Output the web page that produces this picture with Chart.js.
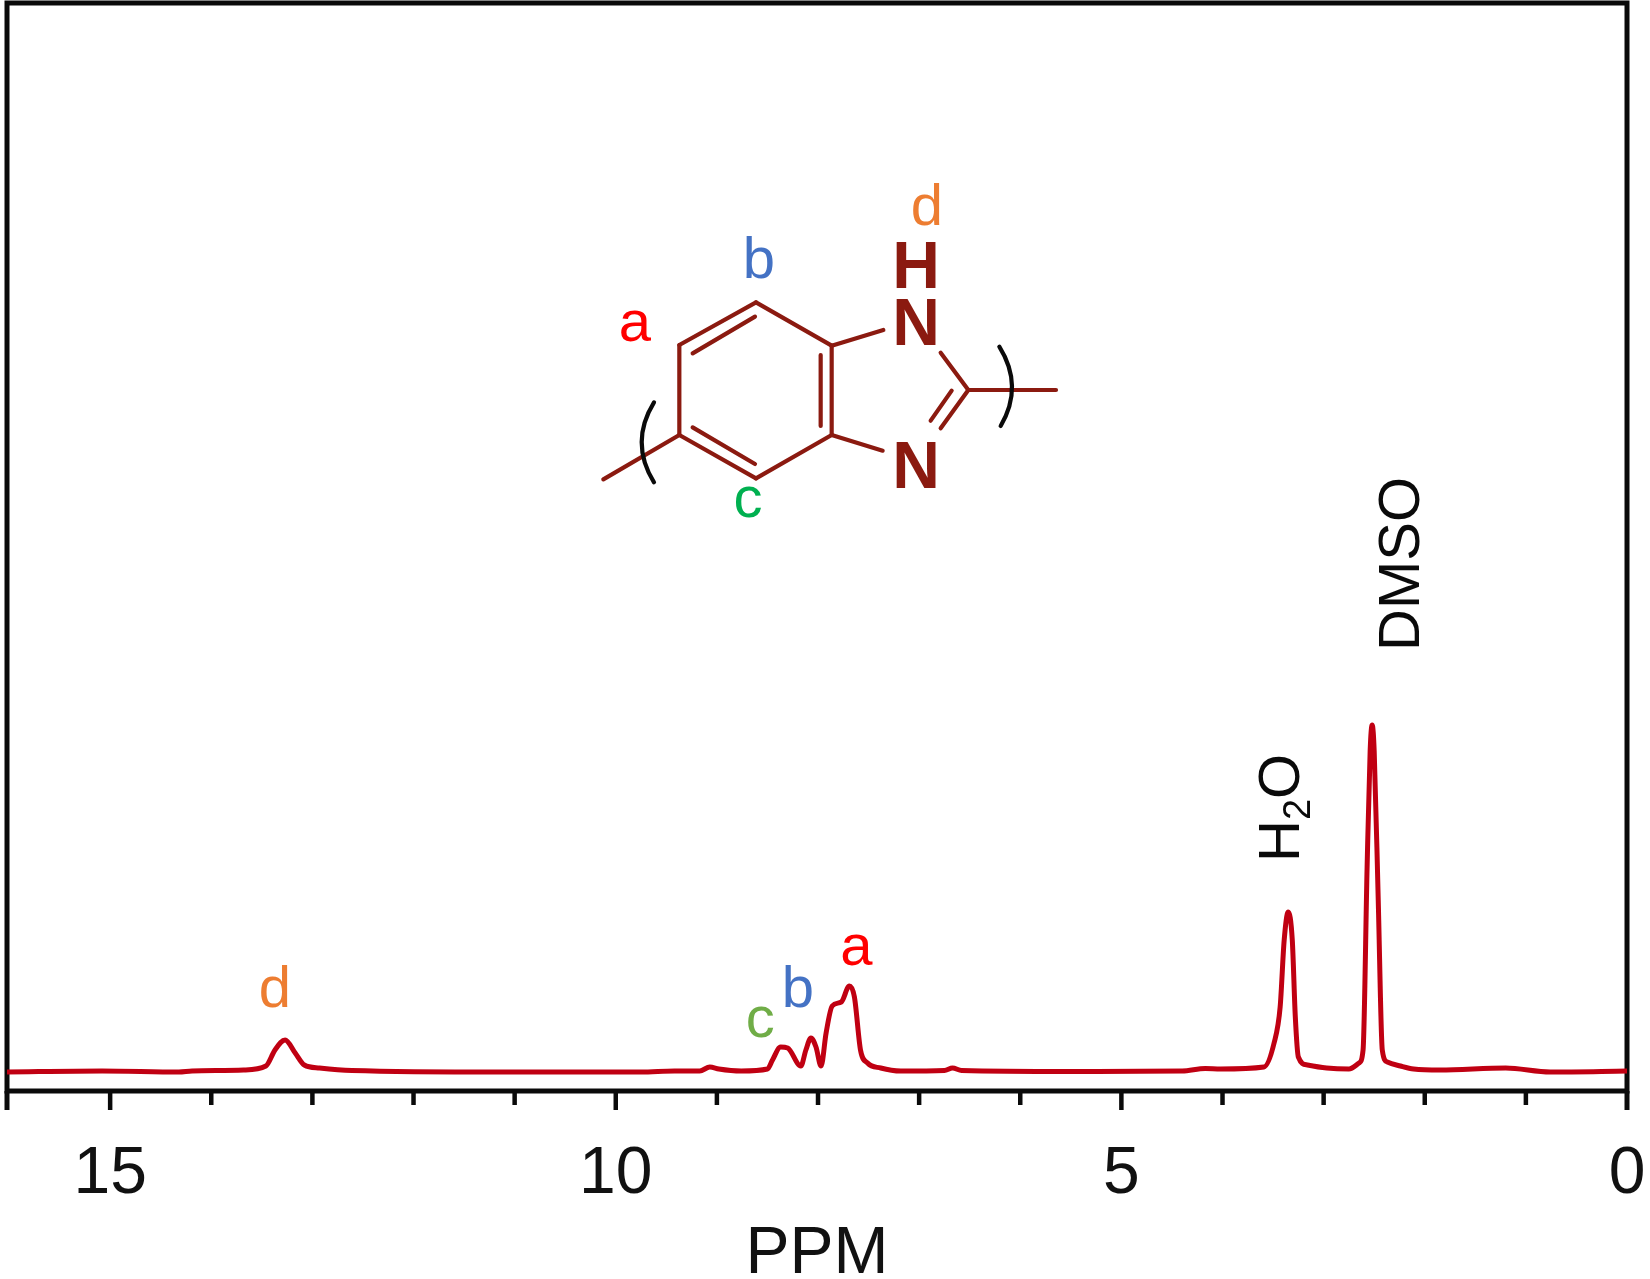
<!DOCTYPE html>
<html>
<head>
<meta charset="utf-8">
<title>PPM spectrum</title>
<style>
  html, body { margin: 0; padding: 0; background: #fff; }
  canvas { display: block; }
</style>
<script src="https://cdn.jsdelivr.net/npm/chart.js@4/dist/chart.umd.min.js"></script>
</head>
<body>
<canvas id="chart" width="1650" height="1279"></canvas>
<script>
// spectrum, left to right
const ppm = [16.02, 15.08, 14.32, 14.19, 13.68, 13.46, 13.37, 13.27, 13.17, 13.08, 12.93, 12.61, 11.13,
  9.75, 9.42, 9.17, 9.07, 8.98, 8.76, 8.5, 8.45, 8.37, 8.3, 8.17, 8.12, 8.07, 8.02, 7.97, 7.92, 7.86, 7.77,
  7.69, 7.64, 7.58, 7.51, 7.38, 7.18, 6.75, 6.67, 6.58, 5.5, 4.4, 4.17, 4.02, 3.59, 3.49, 3.43, 3.39, 3.35,
  3.31, 3.28, 3.25, 3.16, 2.97, 2.75, 2.65, 2.61, 2.57, 2.54, 2.52, 2.5, 2.46, 2.42, 2.37, 2.24, 2.11, 1.85,
  1.2, 0.76, 0];
const intensity = [-1, 0, -1, 0, 1, 5, 21, 31, 18, 6, 3, 0.5, -1,
  -1, 0, 0, 4, 2, 0, 2, 11, 24, 23, 5, 21, 33, 24, 5, 38, 65, 69,
  85, 74, 21, 8, 3, 0, 0.5, 3, 0.5, -0.5, 0, 2.5, 2, 4, 28, 64, 131, 159,
  131, 54, 14, 6, 3, 2, 8, 21, 204, 320, 346, 320, 171, 21, 9, 5, 2, 1,
  3, -1, 0];
const majorTicks = [15, 10, 5, 0];

// peak labels, anchored in data units
const peakNames = ['d', 'c', 'b', 'a'];
const peakPpm = [13.37, 8.57, 8.2, 7.62];
const peakHeight = [64, 34, 64, 106];
const peakColors = ['#ed7d31', '#70ad47', '#4472c4', '#ff0000'];

const X_MAX = 16.02;
const AXIS_WIDTH = 5;
const FONT = '"Liberation Sans", Arial, sans-serif';

const framePlugin = {
  id: 'frame',
  beforeDatasetsDraw(chart) {
    const { ctx, chartArea: a, scales: { x } } = chart;
    ctx.save();
    ctx.strokeStyle = '#0a0a0a';
    ctx.lineWidth = AXIS_WIDTH;
    ctx.strokeRect(a.left, a.top, a.right - a.left, a.bottom - a.top);
    // major and minor ticks have different lengths, the library only gives one
    x.ticks.forEach((t, i) => {
      const px = x.getPixelForTick(i);
      const isEdge = t.value === X_MAX || t.value === 0;
      const isMajor = majorTicks.includes(t.value) || isEdge;
      ctx.lineWidth = isEdge ? AXIS_WIDTH : 4.5;
      ctx.beginPath();
      ctx.moveTo(px, a.bottom);
      ctx.lineTo(px, a.bottom + (isMajor ? 19 : 14));
      ctx.stroke();
    });
    ctx.restore();
  }
};

function vText(ctx, str, x, y, font) {
  ctx.save();
  ctx.translate(x, y);
  ctx.rotate(-Math.PI / 2);
  ctx.font = font;
  ctx.textAlign = 'left';
  ctx.textBaseline = 'alphabetic';
  ctx.fillText(str, 0, 0);
  const w = ctx.measureText(str).width;
  ctx.restore();
  return w;
}

const labelPlugin = {
  id: 'labels',
  afterDraw(chart) {
    const { ctx, scales: { x, y } } = chart;
    ctx.save();
    ctx.textAlign = 'center';
    ctx.textBaseline = 'alphabetic';
    ctx.font = '58px ' + FONT;
    peakNames.forEach((n, i) => {
      ctx.fillStyle = peakColors[i];
      ctx.fillText(n, x.getPixelForValue(peakPpm[i]), y.getPixelForValue(peakHeight[i]));
    });

    ctx.fillStyle = '#0a0a0a';
    // H2O and DMSO run bottom to top
    const hx = x.getPixelForValue(3.24), hy = y.getPixelForValue(209);
    const w1 = vText(ctx, 'H', hx, hy, '58px ' + FONT);
    const w2 = vText(ctx, '2', hx + 11, hy - w1, '38px ' + FONT);
    vText(ctx, 'O', hx, hy - w1 - w2, '58px ' + FONT);
    vText(ctx, 'DMSO', x.getPixelForValue(2.06), y.getPixelForValue(420), '58px ' + FONT);
    ctx.restore();
    drawMolecule(ctx);
  }
};

// structure sketch, coordinates taken from a 3x crop starting at (580,170)
function drawMolecule(ctx) {
  const mx = v => 580 + v / 3, my = v => 170 + v / 3;
  const bonds = [
    [528, 397, 298, 525], [298, 525, 298, 795], [298, 795, 528, 925], [528, 925, 755, 795],
    [755, 795, 755, 527], [755, 527, 528, 397],
    [525, 440, 338, 550], [338, 772, 525, 882], [722, 555, 722, 768],
    [298, 795, 70, 928], [755, 527, 910, 480], [755, 795, 908, 842],
    [1082, 548, 1165, 660], [1165, 660, 1082, 775], [1115, 662, 1052, 752], [1165, 660, 1428, 660]
  ];
  ctx.save();
  ctx.lineCap = 'round';
  ctx.lineJoin = 'round';
  ctx.strokeStyle = '#8b1a10';
  ctx.lineWidth = 4.2;
  bonds.forEach(b => {
    ctx.beginPath();
    ctx.moveTo(mx(b[0]), my(b[1]));
    ctx.lineTo(mx(b[2]), my(b[3]));
    ctx.stroke();
  });
  ctx.strokeStyle = '#0a0a0a';
  [[222, 697, 148, 817, 222, 937], [1258, 530, 1332, 649, 1262, 768]].forEach(p => {
    ctx.beginPath();
    ctx.moveTo(mx(p[0]), my(p[1]));
    ctx.quadraticCurveTo(mx(p[2]), my(p[3]), mx(p[4]), my(p[5]));
    ctx.stroke();
  });

  ctx.textAlign = 'center';
  ctx.textBaseline = 'alphabetic';
  ctx.fillStyle = '#8b1a10';
  ctx.font = 'bold 66px ' + FONT;
  ctx.fillText('H', 916, 288);
  ctx.fillText('N', 916, 345);
  ctx.fillText('N', 916, 488);
  ctx.font = '58px ' + FONT;
  ctx.fillStyle = '#ed7d31'; ctx.fillText('d', 927, 225);
  ctx.fillStyle = '#4472c4'; ctx.fillText('b', 759, 278);
  ctx.fillStyle = '#ff0000'; ctx.fillText('a', 635, 341);
  ctx.fillStyle = '#00b050'; ctx.fillText('c', 748, 517);
  ctx.restore();
}

new Chart(document.getElementById('chart'), {
  type: 'line',
  data: {
    datasets: [{
      data: ppm.map((p, i) => ({ x: p, y: intensity[i] })),
      borderColor: '#c00012',
      borderWidth: 5,
      pointRadius: 0,
      cubicInterpolationMode: 'monotone'
    }]
  },
  options: {
    responsive: false,
    animation: false,
    layout: { padding: { left: 7, right: 23, top: 3, bottom: 0 } },
    plugins: { legend: { display: false }, tooltip: { enabled: false } },
    scales: {
      x: {
        type: 'linear',
        reverse: true,
        min: 0,
        max: X_MAX,
        afterBuildTicks: s => { s.ticks = s.ticks.filter(t => t.value !== 16); },
        afterFit: s => { s.height = 188; s.paddingLeft = 0; s.paddingRight = 0; },
        border: { display: false },
        grid: { display: false, drawTicks: false },
        ticks: {
          stepSize: 1,
          autoSkip: false,
          maxRotation: 0,
          padding: 44,
          color: '#111',
          font: { family: FONT, size: 66 },
          callback: v => (majorTicks.includes(v) ? String(v) : '')
        },
        title: {
          display: true,
          text: 'PPM',
          color: '#111',
          font: { family: FONT, size: 66 },
          padding: { top: 0, bottom: -15 }
        }
      },
      y: {
        min: -20,
        max: 1068,
        afterFit: s => { s.width = 0; s.paddingTop = 0; s.paddingBottom = 0; },
        border: { display: false },
        grid: { display: false },
        ticks: { display: false }
      }
    }
  },
  plugins: [framePlugin, labelPlugin]
});
</script>
</body>
</html>
